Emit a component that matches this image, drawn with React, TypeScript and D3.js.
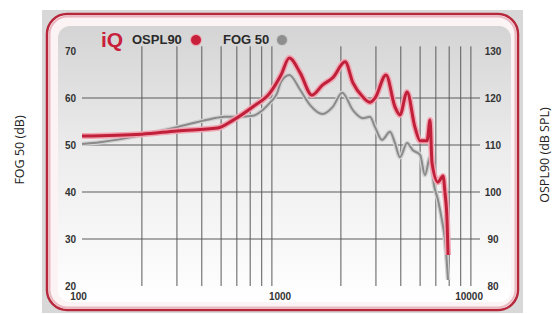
import React from "react";
import * as d3 from "d3";

const freqOspl = [100, 200, 300, 480, 575, 720, 880, 1000, 1100, 1250, 1430, 1620, 1820, 2100, 2300, 2580, 2800, 2970, 3370, 3740, 3960, 4300, 4710, 5000, 5420, 5610, 5740, 6150, 6520, 6670, 6830, 6910];
const ospl90 = [111.9, 112.3, 113.0, 113.6, 115.3, 118.1, 121.1, 124.9, 128.5, 125.3, 120.6, 122.8, 124.3, 127.7, 123.2, 120.2, 119.1, 120.0, 124.9, 118.1, 116.4, 121.3, 113.8, 110.9, 110.9, 115.3, 106.2, 102.1, 103.4, 99.8, 94.0, 86.6];

const freqFog = [100, 123, 200, 300, 440, 523, 608, 720, 812, 880, 955, 1000, 1100, 1250, 1400, 1620, 1820, 2030, 2300, 2580, 2800, 2970, 3220, 3530, 3740, 3960, 4300, 4600, 5000, 5290, 5610, 5870, 6150, 6440, 6670, 6910];
const fog50 = [50.2, 50.6, 52.1, 53.8, 55.5, 56.0, 56.0, 56.2, 57.5, 59.0, 61.0, 63.4, 64.9, 61.7, 58.5, 56.6, 58.1, 61.1, 57.4, 55.7, 56.0, 53.8, 51.1, 52.8, 50.4, 47.4, 50.4, 48.9, 47.9, 43.6, 47.4, 41.5, 38.3, 34.0, 29.8, 21.3];

const xTickLabels = [100, 1000, 10000];
const xGridFreqs = [200, 300, 400, 500, 600, 700, 800, 900, 2000, 3000, 4000, 5000, 6000, 7000, 8000, 9000];
const leftTicks = [20, 30, 40, 50, 60, 70];
const rightTicks = [80, 90, 100, 110, 120, 130];
const hGridValues = [30, 40, 50, 60];
const legendLabels = ["OSPL90", "FOG 50"];
const axisTitles = ["FOG 50 (dB)", "OSPL90 (dB SPL)"];

export default function App() {
  const W = 554, H = 314;
  const x = d3.scaleLog().domain([100, 10000]).range([82, 480]);
  const yL = d3.scaleLinear().domain([20, 70]).range([286, 51]);
  const yR = d3.scaleLinear().domain([80, 130]).range([286, 51]);

  const redLine = d3.line<number>()
    .x((_, i) => x(freqOspl[i]))
    .y((v) => yR(v))
    .curve(d3.curveMonotoneX)(ospl90) as string;
  const grayLine = d3.line<number>()
    .x((_, i) => x(freqFog[i]))
    .y((v) => yL(v))
    .curve(d3.curveMonotoneX)(fog50) as string;

  const tickFont = "'Liberation Sans', Arial, sans-serif";
  return (
    <svg width={W} height={H} style={{ position: "absolute", left: 0, top: 0 }}>
      <defs>
        <linearGradient id="panel" x1="0" y1="0" x2="0" y2="1">
          <stop offset="0" stopColor="#d4d4d4" />
          <stop offset="0.45" stopColor="#ececec" />
          <stop offset="1" stopColor="#ffffff" />
        </linearGradient>
      </defs>
      <rect x={42} y={10} width={481} height={303} fill="#d8d8d8" />
      <rect x={47} y={14} width={471} height={296} rx={20} fill="#fbf3f4" stroke="#b8283c" strokeWidth={2.5} />
      <rect x={49.5} y={16.5} width={466} height={291} rx={18} fill="none" stroke="#eab8c0" strokeWidth={2} />
      <rect x={58} y={26} width={453} height={276} rx={12} fill="url(#panel)" />

      {hGridValues.map((v) => (
        <line key={"h" + v} x1={82} x2={480} y1={yL(v)} y2={yL(v)} stroke="#5a5a5a" strokeWidth={1} />
      ))}
      {xGridFreqs.map((f) => (
        <line key={"v" + f} x1={x(f)} x2={x(f)} y1={yL(71)} y2={yL(20)} stroke="#5a5a5a" strokeWidth={1} />
      ))}

      <path d={grayLine} fill="none" stroke="#d2d2d2" strokeWidth={4.5} strokeLinejoin="round" />
      <path d={grayLine} fill="none" stroke="#8a8a8a" strokeWidth={2} strokeLinejoin="round" />
      <path d={redLine} fill="none" stroke="#f0a6b3" strokeWidth={6} strokeLinejoin="round" />
      <path d={redLine} fill="none" stroke="#c0203a" strokeWidth={3} strokeLinejoin="round" />

      {leftTicks.map((v) => (
        <text key={"l" + v} x={76} y={yL(v)} dy="0.35em" textAnchor="end" fontFamily={tickFont} fontWeight="bold" fontSize={10} fill="#333">{v}</text>
      ))}
      {rightTicks.map((v) => (
        <text key={"r" + v} x={493} y={yR(v)} dy="0.35em" textAnchor="middle" fontFamily={tickFont} fontWeight="bold" fontSize={10} fill="#333">{v}</text>
      ))}
      {xTickLabels.map((f, i) => (
        <text key={"x" + f} x={i === 2 ? x(f) + 3 : x(f) - (i === 0 ? 3.5 : 1)} y={296.5} dy="0.35em"
          textAnchor={i === 2 ? "end" : "middle"} fontFamily={tickFont} fontWeight="bold" fontSize={10} fill="#333">{f}</text>
      ))}

      <text x={101} y={47} fontFamily={tickFont} fontWeight="bold" fontSize={21} fill="#c8203a">iQ</text>
      <text x={132} y={44} fontFamily={tickFont} fontWeight="bold" fontSize={13} fill="#2a2a2a">{legendLabels[0]}</text>
      <circle cx={196} cy={40} r={5.5} fill="#c8203a" stroke="#f0b0bb" strokeWidth={1} />
      <text x={223} y={44} fontFamily={tickFont} fontWeight="bold" fontSize={13} fill="#2a2a2a">{legendLabels[1]}</text>
      <circle cx={282} cy={40} r={5.5} fill="#8e8e8e" stroke="#d0d0d0" strokeWidth={1} />

      <text transform="translate(20,150) rotate(-90)" textAnchor="middle" dy="0.35em" fontFamily="'Open Sans', sans-serif" fontSize={12.5} fill="#222">{axisTitles[0]}</text>
      <text transform="translate(545,155) rotate(-90)" textAnchor="middle" dy="0.35em" fontFamily="'Open Sans', sans-serif" fontSize={12.5} fill="#222">{axisTitles[1]}</text>
    </svg>
  );
}
